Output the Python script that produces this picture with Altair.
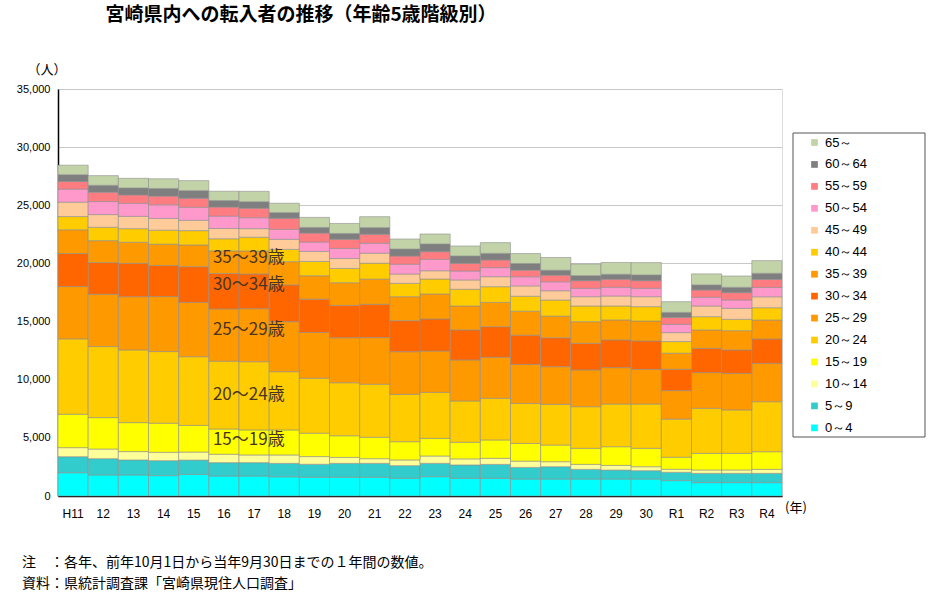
import altair as alt
import pandas as pd

years = ["H11", "12", "13", "14", "15", "16", "17", "18", "19", "20", "21", "22",
         "23", "24", "25", "26", "27", "28", "29", "30", "R1", "R2", "R3", "R4"]

ages = ["0～4", "5～9", "10～14", "15～19", "20～24", "25～29", "30～34",
        "35～39", "40～44", "45～49", "50～54", "55～59", "60～64", "65～"]

a0_4   = [2000, 1810, 1810, 1750, 1860, 1720, 1720, 1650, 1610, 1610, 1610, 1520,
          1660, 1520, 1520, 1460, 1460, 1460, 1460, 1460, 1320, 1150, 1150, 1150]
a5_9   = [1380, 1400, 1290, 1290, 1230, 1150, 1150, 1160, 1120, 1200, 1200, 1090,
          1150, 1150, 1200, 1000, 1060, 830, 770, 720, 720, 800, 800, 800]
a10_14 = [780, 830, 720, 720, 690, 720, 660, 720, 660, 510, 400, 490,
          630, 520, 520, 540, 430, 430, 400, 340, 260, 290, 290, 340]
a15_19 = [2870, 2700, 2490, 2500, 2290, 2170, 2150, 2150, 2010, 1860, 1840, 1570,
          1520, 1430, 1580, 1520, 1430, 1380, 1610, 1580, 1030, 1430, 1430, 1520]
a20_24 = [6480, 6110, 6250, 6160, 5910, 5830, 5870, 5010, 4730, 4560, 4560, 4070,
          3950, 3550, 3580, 3440, 3500, 3580, 3670, 3810, 3280, 3870, 3730, 4300]
a25_29 = [4500, 4500, 4580, 4730, 4670, 4500, 4560, 4300, 3930, 3870, 4010, 3670,
          3560, 3530, 3530, 3350, 3240, 3160, 3130, 2980, 2450, 3070, 3150, 3300]
a30_34 = [2840, 2720, 2870, 2670, 3070, 3040, 2980, 3160, 2870, 2780, 2870, 2670,
          2750, 2580, 2630, 2520, 2490, 2290, 2380, 2440, 1840, 2090, 2010, 2090]
a35_39 = [2040, 1890, 1810, 1840, 1870, 1950, 1980, 2000, 2010, 1950, 2160, 2060,
          2150, 2060, 2090, 2060, 1860, 1860, 1720, 1720, 1380, 1580, 1660, 1630]
a40_44 = [1140, 1150, 1170, 1200, 1230, 1040, 1180, 1060, 1230, 1230, 1370, 1150,
          1290, 1440, 1350, 1290, 1380, 1350, 1200, 1230, 1000, 1140, 970, 1060]
a45_49 = [1240, 1090, 1060, 1010, 890, 890, 740, 860, 860, 860, 860, 800,
          710, 800, 860, 890, 800, 800, 860, 860, 770, 920, 950, 940]
a50_54 = [1120, 1120, 1120, 1170, 1120, 1060, 940, 860, 810, 860, 860, 840,
          980, 770, 780, 780, 770, 720, 750, 720, 710, 750, 720, 810]
a55_59 = [660, 800, 720, 750, 770, 780, 810, 950, 770, 780, 770, 710,
          660, 660, 660, 570, 570, 660, 690, 660, 600, 630, 630, 690]
a60_64 = [580, 600, 600, 660, 660, 560, 570, 490, 490, 510, 570, 600,
          660, 630, 570, 570, 430, 430, 430, 490, 430, 430, 460, 520]
a65    = [820, 830, 830, 830, 860, 800, 890, 810, 860, 860, 940, 860,
          860, 860, 920, 860, 1090, 1000, 1010, 1060, 920, 950, 970, 1090]

colors = ["#00FFFF", "#33CCCC", "#FFFF99", "#FFFF00", "#FFCC00", "#FF9900", "#FF6600",
          "#FF9900", "#FFCC00", "#FFCC99", "#FF99CC", "#FF7C80", "#7F7F7F", "#C3D3A8"]

label_text = ["35～39歳", "30～34歳", "25～29歳", "20～24歳", "15～19歳"]
label_year = ["16", "16", "16", "16", "16"]
label_value = [20470, 18150, 14280, 8690, 4820]

series = [a0_4, a5_9, a10_14, a15_19, a20_24, a25_29, a30_34,
          a35_39, a40_44, a45_49, a50_54, a55_59, a60_64, a65]

rows = []
for i, (age, vals) in enumerate(zip(ages, series)):
    for y, v in zip(years, vals):
        rows.append({"year": y, "age": age, "idx": i, "value": v})
df = pd.DataFrame(rows)

lab_df = pd.DataFrame({"year": label_year, "value": label_value, "text": label_text})

JP = "Noto Sans CJK JP"

y_scale = alt.Scale(domain=[0, 35000], nice=False)
x_scale = alt.Scale(paddingInner=0, paddingOuter=0)
x_axis = alt.Axis(title=None, labelAngle=0, labelFontSize=12, labelFont="Liberation Sans",
                  labelColor="#000", ticks=False, labelPadding=12,
                  domainColor="#000", domainWidth=1.5)
y_axis = alt.Axis(title=None, values=[0, 5000, 10000, 15000, 20000, 25000, 30000, 35000],
                  format=",d", labelFontSize=11, labelFont="Liberation Sans",
                  labelColor="#000", ticks=False, labelPadding=8,
                  gridColor="#c8c8c8", gridWidth=1, domainColor="#000", domainWidth=1.5)

bars = alt.Chart(df).mark_bar(stroke="#8f8f8f", strokeWidth=0.6).encode(
    x=alt.X("year:N", sort=years, scale=x_scale, axis=x_axis),
    y=alt.Y("value:Q", stack="zero", scale=y_scale, axis=y_axis),
    color=alt.Color("age:N",
                    scale=alt.Scale(domain=ages[::-1], range=colors[::-1]),
                    legend=alt.Legend(title=None, orient="none", legendX=746, legendY=43,
                                      symbolType="square", symbolSize=45, symbolStrokeWidth=0,
                                      labelFontSize=13, labelFont="Liberation Sans",
                                      labelColor="#000", rowPadding=7.95,
                                      padding=4, labelLimit=120)),
    order=alt.Order("idx:Q", sort="ascending"),
)

labels = alt.Chart(lab_df).mark_text(
    align="left", baseline="middle", dx=-11, fontSize=17, font=JP, color="#4a3523"
).encode(
    x=alt.X("year:N", sort=years, scale=x_scale, axis=x_axis),
    y=alt.Y("value:Q", scale=y_scale, axis=y_axis),
    text="text:N",
)

legend_box = alt.Chart(pd.DataFrame({"k": [0]})).mark_rect(
    fill=None, stroke="#555", strokeWidth=1
).encode(x=alt.value(735), x2=alt.value(867), y=alt.value(44), y2=alt.value(348))

def txt(s, x, y, size, weight="normal", align="left"):
    d = pd.DataFrame({"t": [s]})
    return alt.Chart(d).mark_text(align=align, baseline="middle", fontSize=size,
                                  fontWeight=weight, font=JP, color="#000").encode(
        x=alt.value(x), y=alt.value(y), text="t:N")

title = txt("宮崎県内への転入者の推移（年齢5歳階級別）", 243, -74, 19, "bold", "center")
unit = txt("（人）", -11, -19, 13, "normal", "center")
nen = txt("(年)", 727, 419, 13)
note1 = txt("注　：各年、前年10月1日から当年9月30日までの１年間の数値。", -36, 474, 14)
note2 = txt("資料：県統計調査課「宮崎県現住人口調査」", -36, 495, 14)

chart = alt.layer(bars, labels, legend_box, title, unit, nen, note1, note2).properties(
    width=724, height=407,
    autosize=alt.AutoSizeParams(type="none"),
    padding={"left": 58, "top": 89, "right": 150, "bottom": 100},
).configure_view(stroke="#333", strokeWidth=1).configure(background="#ffffff")

chart.save("out.html", embed_options={"renderer": "svg", "actions": False})
